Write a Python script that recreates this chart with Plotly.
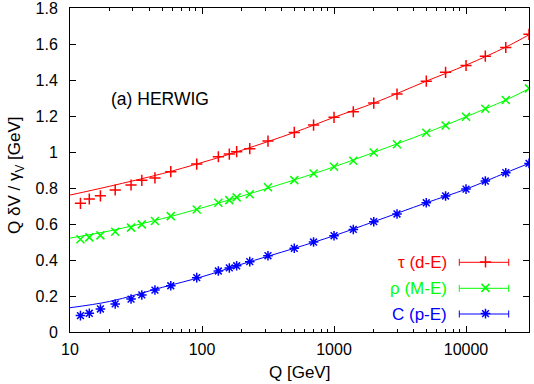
import plotly.graph_objects as go

# Data
q = [12, 14, 17, 22, 29, 35, 44, 58, 91.2, 133, 161, 183, 230, 316,
     500, 700, 1000, 1400, 2000, 3000, 5000, 7000, 10000, 14000, 20000, 30000]
tau_vals = [0.715, 0.739, 0.757, 0.789, 0.817, 0.843, 0.856, 0.891, 0.933, 0.974,
            0.989, 1.002, 1.019, 1.061, 1.109, 1.150, 1.193, 1.224, 1.272, 1.322,
            1.394, 1.443, 1.481, 1.533, 1.581, 1.654]
rho_vals = [0.515, 0.526, 0.537, 0.557, 0.580, 0.598, 0.617, 0.644, 0.681, 0.718,
            0.733, 0.748, 0.765, 0.804, 0.844, 0.881, 0.918, 0.952, 0.998, 1.043,
            1.107, 1.148, 1.196, 1.241, 1.289, 1.354]
c_vals = [0.091, 0.104, 0.128, 0.156, 0.183, 0.206, 0.233, 0.257, 0.302, 0.339,
          0.356, 0.368, 0.391, 0.424, 0.465, 0.500, 0.535, 0.570, 0.613, 0.656,
          0.718, 0.756, 0.794, 0.839, 0.885, 0.937]

fit_q = [10, 20, 50, 100, 200, 500, 1000, 2000, 5000, 10000, 20000, 30000]
tau_fit = [0.761, 0.810, 0.880, 0.942, 1.010, 1.109, 1.193, 1.272, 1.394, 1.483, 1.583, 1.652]
rho_fit = [0.522, 0.562, 0.630, 0.690, 0.755, 0.845, 0.918, 0.998, 1.107, 1.196, 1.289, 1.352]
c_fit = [0.135, 0.170, 0.248, 0.307, 0.377, 0.465, 0.535, 0.613, 0.718, 0.794, 0.885, 0.937]

series_names = ["τ (d-E)", "ρ (M-E)", "C (p-E)"]
colors = ["#ff0000", "#00ff00", "#0000ff"]
symbols = ["cross-thin", "x-thin", "asterisk-open"]
vals = [tau_vals, rho_vals, c_vals]
fits = [tau_fit, rho_fit, c_fit]

FONT = "Liberation Sans, Arial, sans-serif"
L, R, T, B, W, H = 70, 5, 8, 52, 534, 384
PW, PH = W - L - R, H - T - B


def px(xp):
    return (xp - L) / PW


def py(yp):
    return (H - B - yp) / PH


legend_ids = ["legend", "legend2", "legend3"]
legend_rows = [262.3, 288.3, 314]

fig = go.Figure()
for name, col, sym, v, f in zip(series_names, colors, symbols, vals, fits):
    fig.add_trace(go.Scatter(x=fit_q, y=f, mode="lines", line=dict(color=col, width=1, shape="spline"),
                             showlegend=False, hoverinfo="skip"))
    fig.add_trace(go.Scatter(x=q, y=v, mode="markers", showlegend=False,
                             marker=dict(symbol=sym, size=8, color=col, line=dict(color=col, width=1.5))))
for name, col, sym, lid in zip(series_names, colors, symbols, legend_ids):
    fig.add_trace(go.Scatter(x=[None], y=[None], mode="markers", name=" ", legend=lid,
                             marker=dict(symbol=sym, size=8, color=col, line=dict(color=col, width=1.5))))

# legend keys: labels, sample lines with end caps
x0, x1 = px(459.3), px(508.7)
cap = 3.5 / PH
for name, col, yp in zip(series_names, colors, legend_rows):
    fig.add_annotation(x=px(449), y=py(yp), xref="paper", yref="paper", text=name,
                       showarrow=False, xanchor="right", yanchor="middle",
                       font=dict(family=FONT, size=17, color=col))
    yy = py(yp)
    fig.add_shape(type="line", xref="paper", yref="paper", x0=x0, x1=x1, y0=yy, y1=yy,
                  line=dict(color=col, width=1))
    for xc in (x0, x1):
        fig.add_shape(type="line", xref="paper", yref="paper", x0=xc, x1=xc, y0=yy - cap, y1=yy + cap,
                      line=dict(color=col, width=1))

fig.add_annotation(x=px(109), y=py(99), xref="paper", yref="paper",
                   text="(a) HERWIG", showarrow=False, xanchor="left", yanchor="middle",
                   font=dict(family=FONT, size=17.5, color="black"))

# axis titles
fig.add_annotation(x=px(299), y=py(372), xref="paper", yref="paper",
                   text="Q [GeV]", showarrow=False, xanchor="center", yanchor="middle",
                   font=dict(family=FONT, size=17, color="black"))
fig.add_annotation(x=px(16), y=py(175), xref="paper", yref="paper",
                   text="Q δV / γ<sub>V</sub> [GeV]", showarrow=False, textangle=-90,
                   xanchor="center", yanchor="middle",
                   font=dict(family=FONT, size=17, color="black"))

leg_common = dict(xanchor="left", yanchor="middle", bgcolor="rgba(0,0,0,0)",
                  font=dict(size=14), itemwidth=30)
layout_legends = {}
for lid, yp in zip(legend_ids, legend_rows):
    layout_legends[lid] = dict(x=px(465.5), y=py(yp), **leg_common)

fig.update_layout(
    width=W, height=H,
    margin=dict(l=L, r=R, t=T, b=B, autoexpand=False),
    paper_bgcolor="white", plot_bgcolor="white",
    font=dict(family=FONT, size=16, color="black"),
    showlegend=True,
    **layout_legends,
)
fig.update_xaxes(
    type="log", range=[1, 4.477], showgrid=False, zeroline=False, automargin=False,
    showline=True, linecolor="black", linewidth=1, mirror="allticks",
    ticks="inside", ticklen=6, tickcolor="black", ticklabeloverflow="allow",
    tickvals=[10, 100, 1000, 10000], ticktext=["10", "100", "1000", "10000"],
    tickfont=dict(size=16), ticklabelstandoff=3,
    minor=dict(ticks="inside", ticklen=3, tickcolor="black", dtick="D1", showgrid=False),
)
fig.update_yaxes(
    range=[0, 1.8005], showgrid=False, zeroline=False, automargin=False,
    showline=True, linecolor="black", linewidth=1, mirror="allticks",
    ticks="inside", ticklen=6, tickcolor="black", ticklabeloverflow="allow",
    tickfont=dict(size=16), ticklabelstandoff=8,
    tickvals=[0, 0.2, 0.4, 0.6, 0.8, 1.0, 1.2, 1.4, 1.6, 1.8],
    ticktext=["0", "0.2", "0.4", "0.6", "0.8", "1", "1.2", "1.4", "1.6", "1.8"],
)

fig.write_html("out.html", config={"displayModeBar": False},
               post_script="document.body.style.margin='0';document.body.style.overflow='hidden';")
